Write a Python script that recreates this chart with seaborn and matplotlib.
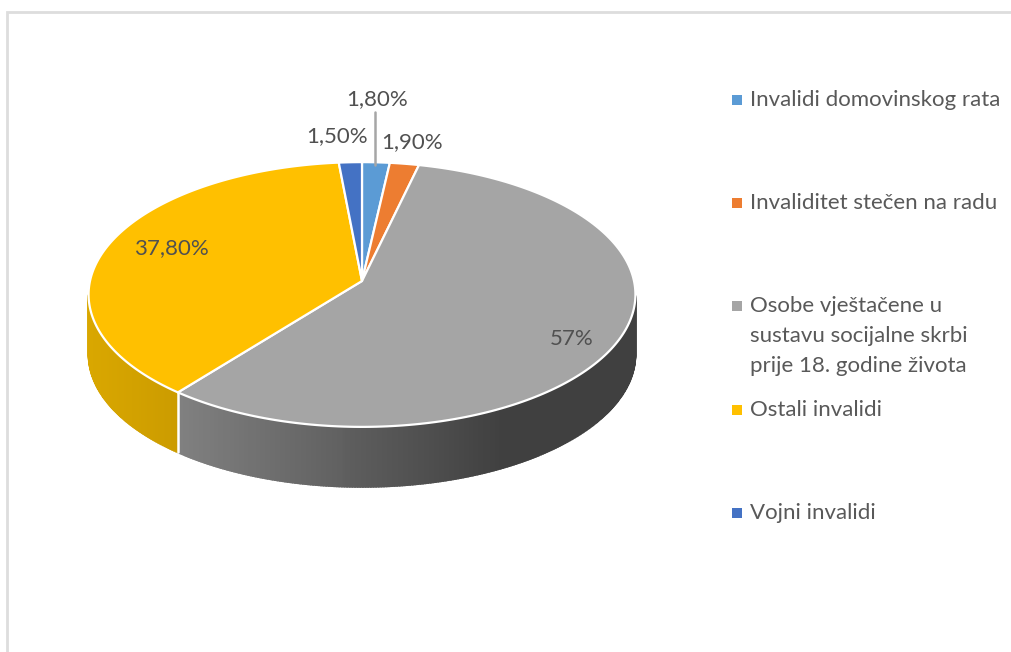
import numpy as np
import pandas as pd
import matplotlib
matplotlib.use("Agg")
import matplotlib.pyplot as plt
import seaborn as sns

# Data
categories = ["Invalidi domovinskog rata", "Invaliditet stečen na radu",
              "Osobe vještačene u\nsustavu socijalne skrbi\nprije 18. godine života",
              "Ostali invalidi", "Vojni invalidi"]
values = [1.8, 1.9, 57, 37.8, 1.5]
value_labels = ["1,80%", "1,90%", "57%", "37,80%", "1,50%"]
colors = ["#5B9BD5", "#ED7D31", "#A5A5A5", "#FFC000", "#4472C4"]

# Layout in pixels of the 1012x652 canvas
label_pos = [(377, 99), (412, 142), (572, 339), (171, 248), (337, 136)]
legend_y = [100, 203, 306, 410, 513]
legend_x = 737
legend_text_x = 750
line_step = 30
cx, cy = 362, 281
rx, ry = 272, 131
tilt = 0.102
depth = 60

# wall gradients, near edge to far edge
wall_ramps = {2: ("#808080", "#404040", 500), 3: ("#D9A700", "#CC9C00", 175)}

sns.set_theme(style="white")
plt.rcParams["font.family"] = ["Lato", "DejaVu Sans"]


def project(theta):
    # theta is clockwise from 12 o'clock, in radians; gives canvas pixels
    u, v = np.sin(theta), np.cos(theta)
    w = 1 + tilt * v
    return cx + rx * u / w, cy - ry * v / w


fig = plt.figure(figsize=(10.12, 6.52), dpi=100)
ax = fig.add_axes([0, 0, 1, 1])
ax.set_xlim(0, 1012)
ax.set_ylim(652, 0)
ax.axis("off")

# light frame around the chart area
ax.plot([7, 7, 1012], [652, 12, 12], color="#DDDDDD", lw=2, solid_joinstyle="miter")

edges = np.radians(np.cumsum([0] + values) * 3.6)

# side wall of the pie, only the part turned to the viewer
for i in wall_ramps:
    start, end, flat_x = wall_ramps[i]
    ramp = sns.blend_palette([start, end], 64)
    thetas = np.arange(edges[i], edges[i + 1] + 1e-6, np.radians(0.5))
    thetas = thetas[np.cos(thetas) < -tilt]
    seg_x0 = project(thetas)[0].min()
    for a, b in zip(thetas[:-1], thetas[1:]):
        xa, ya = project(a)
        xb, yb = project(b)
        t = np.clip((xa - seg_x0) / (flat_x - seg_x0), 0, 1)
        c = ramp[int(t * 63)]
        ax.fill([xa, xb, xb, xa], [ya, yb, yb + depth, ya + depth], color=c, lw=1.3)

# white seam where the two walls meet
xs, ys = project(edges[3])
ax.plot([xs, xs], [ys, ys + depth], color="white", lw=1.8)

# top face
for i, color in enumerate(colors):
    thetas = np.linspace(edges[i], edges[i + 1], 200)
    xr, yr = project(thetas)
    ax.fill(np.r_[cx, xr], np.r_[cy, yr], facecolor=color, edgecolor="white",
            lw=1.6, joinstyle="round")

# leader line of the first label
ax.plot([375, 375], [112, 165], color="#A6A6A6", lw=1.8)

for text, (x, y) in zip(value_labels, label_pos):
    ax.text(x, y, text, ha="center", va="center", fontsize=16, color="#505050")

# legend
legend_df = pd.DataFrame({"x": legend_x, "y": legend_y, "name": categories})
sns.scatterplot(data=legend_df, x="x", y="y", hue="name", palette=colors, marker="s",
                s=46, linewidth=0, legend=False, ax=ax)
ax.set_xlim(0, 1012)
ax.set_ylim(652, 0)
for name, y in zip(categories, legend_y):
    for k, line in enumerate(name.split("\n")):
        ax.text(legend_text_x, y + k * line_step, line, ha="left", va="center", fontsize=16,
                color="#595959")

fig.savefig("out.png", dpi=100, facecolor="white")
